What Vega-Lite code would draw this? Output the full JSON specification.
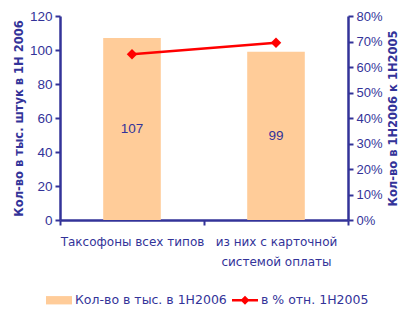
{
  "$schema": "https://vega.github.io/schema/vega-lite/v6.json",
  "autosize": "none",
  "width": 288,
  "height": 204,
  "padding": {"left": 60, "top": 16, "right": 60, "bottom": 91},
  "background": "white",
  "config": {"view": {"stroke": null}, "font": "Liberation Sans"},
  "data": {"values": [
    {"cat": "Таксофоны всех типов", "qty": 107, "pct": 0.65},
    {"cat": "из них с карточной|системой оплаты", "qty": 99, "pct": 0.695}
  ]},
  "encoding": {
    "x": {
      "field": "cat", "type": "nominal", "sort": null,
      "scale": {"paddingInner": 0, "paddingOuter": 0},
      "axis": {
        "title": null, "labelAngle": 0, "labelLimit": 0,
        "labelExpr": "split(datum.label, '|')",
        "labelFont": "DejaVu Sans", "labelFontSize": 12, "labelColor": "#333399",
        "labelLineHeight": 20, "labelPadding": 11,
        "tickBand": "extent", "tickColor": "#333399", "tickWidth": 2, "tickSize": 5,
        "domainColor": "#333399", "domainWidth": 2.5
      }
    }
  },
  "layer": [
    {
      "mark": {"type": "bar", "width": {"band": 0.4}},
      "encoding": {
        "y": {
          "field": "qty", "type": "quantitative",
          "scale": {"domain": [0, 120]},
          "axis": {
            "orient": "left", "values": [0, 20, 40, 60, 80, 100, 120], "grid": false,
            "labelFontSize": 13.5, "labelColor": "#333399", "labelPadding": 3,
            "domainColor": "#333399", "domainWidth": 2.5,
            "tickColor": "#333399", "tickWidth": 2, "tickSize": 5,
            "title": "Кол-во в тыс. штук в 1Н 2006",
            "titleFont": "DejaVu Sans", "titleFontSize": 11.5, "titleFontWeight": "bold",
            "titleColor": "#333399", "titlePadding": 5
          }
        },
        "color": {
          "datum": "Кол-во в тыс. в 1Н2006",
          "scale": {"domain": ["Кол-во в тыс. в 1Н2006", "в % отн. 1Н2005"], "range": ["#FFCC99", "#FF0000"]},
          "legend": {
            "orient": "none", "legendX": -14, "legendY": 271, "direction": "horizontal",
            "title": null, "labelFont": "DejaVu Sans", "labelFontSize": 12.5, "labelColor": "#333399",
            "symbolSize": 676, "labelOffset": 3, "columnPadding": 5,
            "encode": {
              "symbols": {
                "update": {
                  "shape": {"signal": "datum.value === 'в % отн. 1Н2005' ? 'M-1,-0.1H1V0.1H-1Z M-0.35,0L0,-0.35L0.35,0L0,0.35Z' : 'M-1,-0.32H1V0.32H-1Z'"},
                  "fill": {"signal": "datum.value === 'в % отн. 1Н2005' ? '#FF0000' : '#FFCC99'"},
                  "strokeWidth": {"value": 0},
                  "opacity": {"value": 1}
                }
              }
            }
          }
        }
      }
    },
    {
      "mark": {"type": "text", "color": "#333399", "fontSize": 13.5, "baseline": "middle"},
      "encoding": {
        "y": {"field": "qty", "type": "quantitative", "scale": {"domain": [0, 240]}, "axis": null},
        "text": {"field": "qty", "type": "quantitative"}
      }
    },
    {
      "mark": {"type": "line", "strokeWidth": 2.5, "point": {"shape": "diamond", "filled": true, "size": 110, "color": "#FF0000"}},
      "encoding": {
        "y": {
          "field": "pct", "type": "quantitative",
          "scale": {"domain": [0, 0.8]},
          "axis": {
            "orient": "right", "values": [0, 0.1, 0.2, 0.3, 0.4, 0.5, 0.6, 0.7, 0.8], "format": ".0%", "grid": false,
            "labelFontSize": 13, "labelColor": "#333399", "labelPadding": 3,
            "domainColor": "#333399", "domainWidth": 2.5,
            "tickColor": "#333399", "tickWidth": 2, "tickSize": 5,
            "title": "Кол-во в 1Н2006 к 1Н2005", "titleAngle": 270, "titleBaseline": "top",
            "titleFont": "DejaVu Sans", "titleFontSize": 11.5, "titleFontWeight": "bold",
            "titleColor": "#333399", "titlePadding": 5
          }
        },
        "color": {"datum": "в % отн. 1Н2005"}
      }
    }
  ],
  "resolve": {"scale": {"y": "independent"}}
}
